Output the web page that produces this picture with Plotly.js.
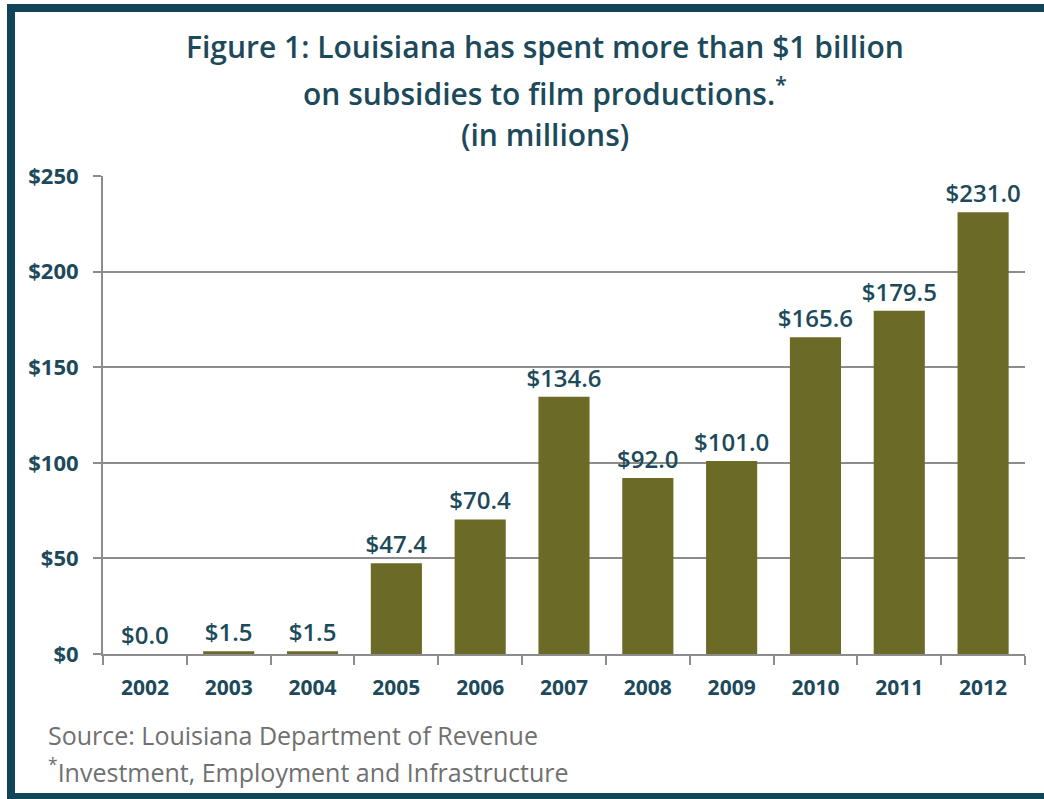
<!DOCTYPE html>
<html><head><meta charset="utf-8">
<script src="https://cdn.plot.ly/plotly-3.0.1.min.js"></script>
<style>html,body{margin:0;padding:0;background:#fff}#chart{width:1044px;height:799px}</style>
</head><body><div id="chart"></div>
<script>
const years = ['2002','2003','2004','2005','2006','2007','2008','2009','2010','2011','2012'];
const subsidies = [0.0, 1.5, 1.5, 47.4, 70.4, 134.6, 92.0, 101.0, 165.6, 179.5, 231.0];
const yTickVals = [0, 50, 100, 150, 200, 250];
const yTickText = ['$0', '$50', '$100', '$150', '$200', '$250'];
const labels = subsidies.map(v => '$' + v.toFixed(1));
const titleLines = [
  'Figure 1: Louisiana has spent more than $1 billion',
  'on subsidies to film productions.<sup>*</sup>',
  '(in millions)'
];

const teal = '#1d4a5b';
const font = '"Open Sans", Lato, sans-serif';

const trace = {
  type: 'bar', x: years, y: subsidies,
  marker: {color: '#6b6a27'},
  text: labels, textposition: 'outside', cliponaxis: false, constraintext: 'none',
  textfont: {family: font, size: 24, color: teal, weight: 600},
  hoverinfo: 'none'
};

const titleY = [1.27, 1.176, 1.086];
const annotations = titleLines.map((t, i) => ({
  xref: 'paper', yref: 'paper', x: 0.479, y: titleY[i], xanchor: 'center', yanchor: 'middle',
  text: t, showarrow: false,
  font: {family: font, size: 30, color: teal, weight: 600}
}));
annotations.push(
  {xref: 'paper', yref: 'paper', x: -0.062, y: -0.169, xanchor: 'left', yanchor: 'middle',
   text: 'Source: Louisiana Department of Revenue', showarrow: false,
   font: {family: font, size: 25, color: '#707070'}},
  {xref: 'paper', yref: 'paper', x: -0.062, y: -0.243, xanchor: 'left', yanchor: 'middle',
   text: '<sup>*</sup>Investment, Employment and Infrastructure', showarrow: false,
   font: {family: font, size: 25, color: '#707070'}}
);

const layout = {
  width: 1044, height: 799,
  margin: {l: 103, r: 19, t: 176, b: 145},
  paper_bgcolor: '#ffffff', plot_bgcolor: '#ffffff',
  showlegend: false,
  bargap: 0.39,
  xaxis: {
    type: 'category', tickson: 'boundaries', ticks: 'outside', ticklen: 9, tickwidth: 2,
    tickcolor: '#8c8c8c', showline: true, linecolor: '#8c8c8c', linewidth: 2,
    showgrid: false, fixedrange: true, ticklabelstandoff: 14,
    tickfont: {family: font, size: 21, color: teal, weight: 700}
  },
  yaxis: {
    range: [0, 250], tickvals: yTickVals, ticktext: yTickText,
    ticks: 'outside', ticklen: 8, tickwidth: 2, tickcolor: '#8c8c8c',
    showline: true, linecolor: '#8c8c8c', linewidth: 2,
    showgrid: true, gridcolor: '#8c8c8c', gridwidth: 2, zeroline: false,
    fixedrange: true, ticklabelstandoff: 10,
    tickfont: {family: font, size: 22, color: teal, weight: 700}
  },
  annotations: annotations
};

Plotly.newPlot('chart', [trace], layout, {displayModeBar: false, staticPlot: true});
</script>
<div style="position:absolute;left:7px;top:4px;border-left:8px solid #0f4459;border-top:8px solid #0f4459;border-bottom:6px solid #0f4459;pointer-events:none;box-sizing:border-box;width:1037px;height:795px"></div>
</body></html>
